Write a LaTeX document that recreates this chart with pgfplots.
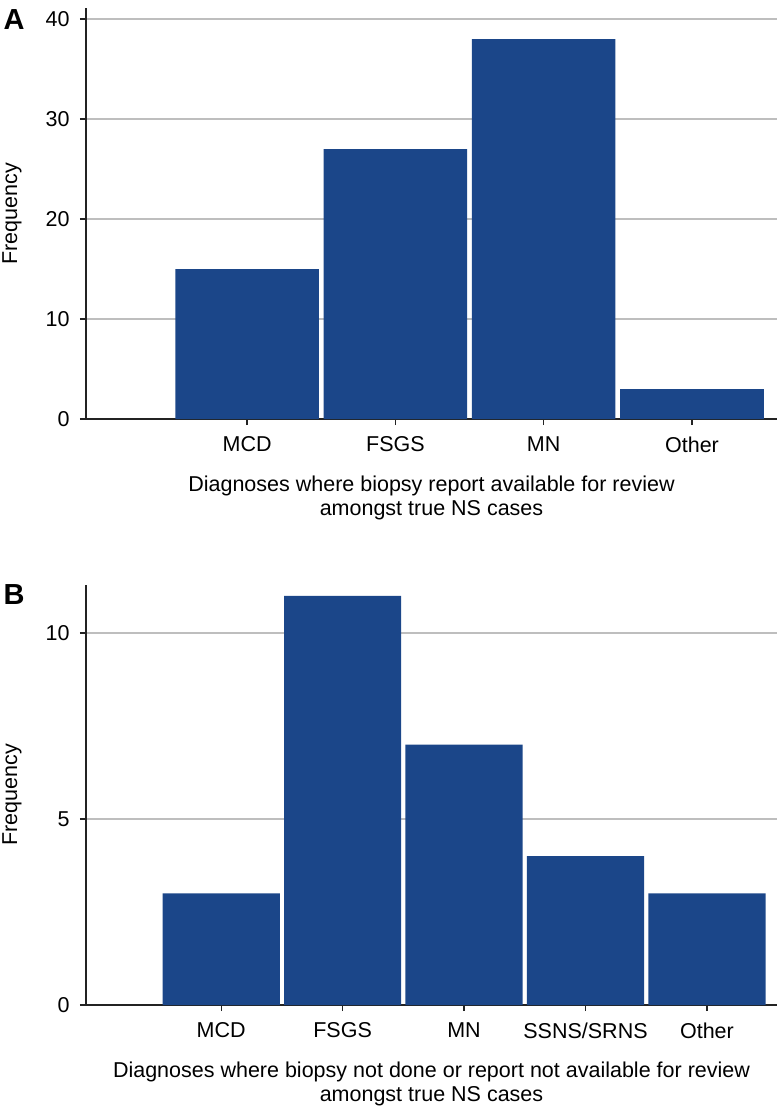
\documentclass[border=0pt]{standalone}
\usepackage{fontspec}
\setmainfont{Liberation Sans}
\usepackage{pgfplots}
\pgfplotsset{compat=1.18}
\definecolor{barblue}{RGB}{27,70,137}
\definecolor{gridgray}{RGB}{190,190,190}
\definecolor{axisdark}{RGB}{35,35,35}
\begin{document}
\begin{tikzpicture}[x=1pt,y=1pt]
\pgfplotsset{
  panel/.style={
    scale only axis, width=691pt,
    axis x line*=bottom, axis y line*=left,
    axis line style={axisdark, line width=1.4pt, -},
    ymin=0,
    ymajorgrids, grid style={gridgray, line width=1.3pt},
    xtick=data,
    tick style={axisdark, line width=1.3pt},
    tick align=outside,
    major tick length=6pt,
    ybar, bar width=0.968,
    /pgf/number format/assume math mode=true,
    tick label style={font=\fontsize{21.5}{25}\selectfont},
    yticklabel style={xshift=-7pt},
    xticklabel style={yshift=-8pt},
    label style={font=\fontsize{21.5}{24.5}\selectfont},
    xlabel style={align=center, at={(axis description cs:0.5,0)}, anchor=north, yshift=-53pt},
    every axis y label/.style={at={(axis description cs:0,0.5)}, rotate=90, anchor=center, yshift=74pt, font=\fontsize{21.5}{25}\selectfont},
    ylabel={Frequency},
  }
}
\begin{axis}[panel, at={(86pt,-419pt)}, anchor=south west, height=411pt,
  xmin=-1.086, xmax=3.573, ymax=41.1,
  ytick={0,10,20,30,40},
  xticklabels={MCD,FSGS,MN,Other},
  xlabel={Diagnoses where biopsy report available for review\\amongst true NS cases}]
\addplot[fill=barblue, draw=none] coordinates {(0,15) (1,27) (2,38) (3,3)};
\end{axis}
\begin{axis}[panel, at={(86pt,-1005pt)}, anchor=south west, height=420pt,
  bar width=0.965,
  xmin=-1.113, xmax=4.577, ymax=11.29,
  ytick={0,5,10},
  xticklabels={MCD,FSGS,MN,SSNS/SRNS,Other},
  xlabel={Diagnoses where biopsy not done or report not available for review\\amongst true NS cases}]
\addplot[fill=barblue, draw=none] coordinates {(0,3) (1,11) (2,7) (3,4) (4,3)};
\end{axis}
\node[font=\fontsize{29}{31}\selectfont\bfseries] at (14pt,-20pt) {A};
\node[font=\fontsize{29}{31}\selectfont\bfseries] at (14pt,-595pt) {B};
\pgfresetboundingbox
\path (0,0) rectangle (777pt,-1109pt);
\end{tikzpicture}
\end{document}
